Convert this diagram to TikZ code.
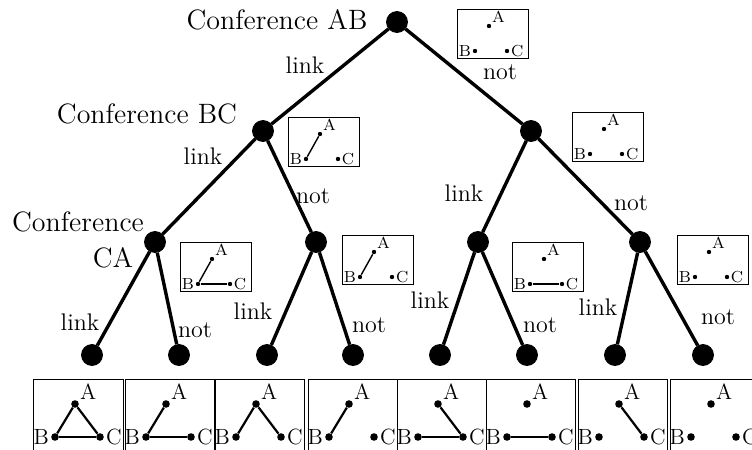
\documentclass[tikz,border=0pt]{standalone}
\usetikzlibrary{positioning}
\tikzset {
  % tree vertices
  main/.style = {draw, circle, fill=black, minimum size=10.5pt, inner sep=0pt},
  branch/.style = {line width=1.7pt},
  % texts on the tree
  conf/.style = {font=\fontsize{14}{16}\selectfont, inner sep=0pt},
  choice/.style = {font=\fontsize{12}{14}\selectfont, inner sep=0pt},
  % the little graphs of links
  frame/.style = {draw, line width=0.5pt},
  sdot/.style = {circle, fill=black, minimum size=2.2pt, inner sep=0pt},
  bdot/.style = {circle, fill=black, minimum size=3.8pt, inner sep=0pt},
  slbl/.style = {font=\fontsize{8}{9}\selectfont, inner sep=0.5pt},
  blbl/.style = {font=\fontsize{11}{12}\selectfont, inner sep=0.8pt},
  slink/.style = {line width=0.7pt},
  blink/.style = {line width=1.1pt},
}
% small box, top left corner at (#2,#3)
\newcommand{\smallconf}[3]{
  \begin{scope}[shift={(#2,#3)}]
    \draw[frame] (0,0) rectangle (71,49);
    \node[sdot, label={[slbl]45:A}] (#1A) at (32,17) {};
    \node[sdot, label={[slbl]left:B}] (#1B) at (18,42) {};
    \node[sdot, label={[slbl]right:C}] (#1C) at (50,42) {};
  \end{scope}
}
% big box, top left corner at (#2,#3)
\newcommand{\bigconf}[3]{
  \begin{scope}[shift={(#2,#3)}]
    \draw[frame] (0,0) rectangle (89,71);
    \node[bdot, label={[blbl]40:A}] (#1A) at (41,25) {};
    \node[bdot, label={[blbl]left:B}] (#1B) at (21,58) {};
    \node[bdot, label={[blbl]right:C}] (#1C) at (66,58) {};
  \end{scope}
}

\begin{document}
\begin{tikzpicture}[x=0.5pt, y=-0.5pt]
        \useasboundingbox (0,0) rectangle (752,450);
        \clip (0,0) rectangle (752,450);

        % the tree
        \node[main] (v) at (397,22) {};
        \node[main] (vl) at (263,131) {};
        \node[main] (vn) at (531,131) {};
        \node[main] (vll) at (155,242) {};
        \node[main] (vln) at (316,242) {};
        \node[main] (vnl) at (478,242) {};
        \node[main] (vnn) at (640,242) {};
        \node[main] (vlll) at (92,355) {};
        \node[main] (vlln) at (179,355) {};
        \node[main] (vlnl) at (267,355) {};
        \node[main] (vlnn) at (353,355) {};
        \node[main] (vnll) at (440,355) {};
        \node[main] (vnln) at (527,355) {};
        \node[main] (vnnl) at (615,355) {};
        \node[main] (vnnn) at (703,355) {};

        \draw[branch] (v) -- (vl);
        \draw[branch] (v) -- (vn);
        \draw[branch] (vl) -- (vll);
        \draw[branch] (vl) -- (vln);
        \draw[branch] (vn) -- (vnl);
        \draw[branch] (vn) -- (vnn);
        \draw[branch] (vll) -- (vlll);
        \draw[branch] (vll) -- (vlln);
        \draw[branch] (vln) -- (vlnl);
        \draw[branch] (vln) -- (vlnn);
        \draw[branch] (vnl) -- (vnll);
        \draw[branch] (vnl) -- (vnln);
        \draw[branch] (vnn) -- (vnnl);
        \draw[branch] (vnn) -- (vnnn);

        \node[conf] (confab) at (277,20) {Conference AB};
        \node[conf] (confbc) at (147,114) {Conference BC};
        \node[conf] (confca) at (78,222) {Conference};
        \node[conf] (confca2) at (113,258) {CA};

        \node[choice] (c1) at (305,65) {link};
        \node[choice] (c2) at (500,72) {not};
        \node[choice] (c3) at (203,156) {link};
        \node[choice] (c4) at (313,196) {not};
        \node[choice] (c5) at (464,193) {link};
        \node[choice] (c6) at (631,203) {not};
        \node[choice] (c7) at (80,322) {link};
        \node[choice] (c8) at (195,330) {not};
        \node[choice] (c9) at (253,311) {link};
        \node[choice] (c10) at (369,325) {not};
        \node[choice] (c11) at (430,300) {link};
        \node[choice] (c12) at (540,325) {not};
        \node[choice] (c13) at (598,307) {link};
        \node[choice] (c14) at (718,317) {not};

        % the graphs so far
        \smallconf{g}{457}{9}
        \smallconf{gl}{288}{117}
        \smallconf{gn}{572}{112}
        \smallconf{gll}{180}{242}
        \smallconf{gln}{342}{235}
        \smallconf{gnl}{512}{242}
        \smallconf{gnn}{677}{235}

        \draw[slink] (glA) -- (glB);
        \draw[slink] (gllA) -- (gllB);
        \draw[slink] (gllB) -- (gllC);
        \draw[slink] (glnA) -- (glnB);
        \draw[slink] (gnlB) -- (gnlC);

        % the eight outcomes
        \bigconf{h1}{34}{379}
        \bigconf{h2}{125}{379}
        \bigconf{h3}{215}{379}
        \bigconf{h4}{308}{379}
        \bigconf{h5}{397}{379}
        \bigconf{h6}{486}{379}
        \bigconf{h7}{578}{379}
        \bigconf{h8}{670}{379}

        \draw[blink] (h1A) -- (h1B);
        \draw[blink] (h1B) -- (h1C);
        \draw[blink] (h1C) -- (h1A);
        \draw[blink] (h2A) -- (h2B);
        \draw[blink] (h2B) -- (h2C);
        \draw[blink] (h3A) -- (h3B);
        \draw[blink] (h3C) -- (h3A);
        \draw[blink] (h4A) -- (h4B);
        \draw[blink] (h5B) -- (h5C);
        \draw[blink] (h5C) -- (h5A);
        \draw[blink] (h6B) -- (h6C);
        \draw[blink] (h7C) -- (h7A);

      \end{tikzpicture}
\end{document}
